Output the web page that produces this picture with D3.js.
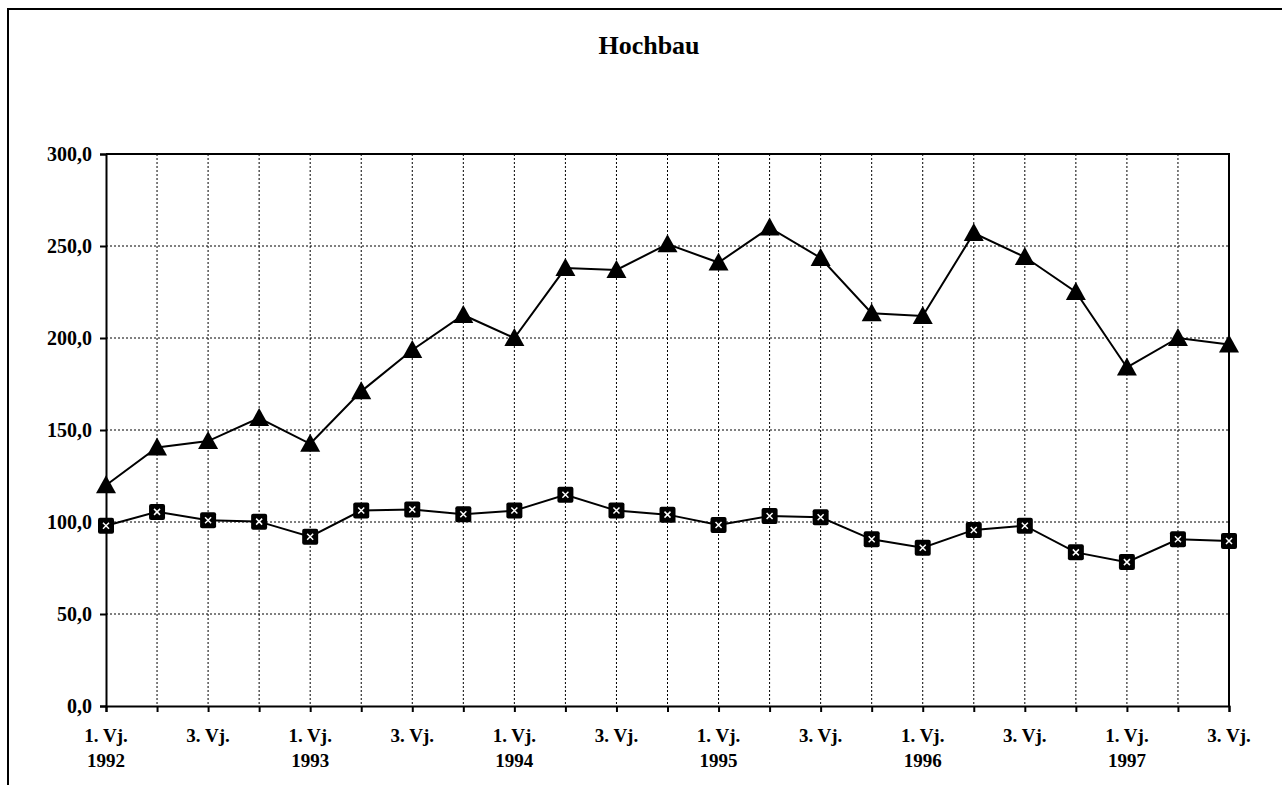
<!DOCTYPE html>
<html lang="de">
<head>
  <meta charset="UTF-8" />
  <title>Hochbau</title>
  <style>
    html, body { margin: 0; padding: 0; background: #fff; }
    svg { display: block; font-family: "Liberation Serif", "Times New Roman", serif; font-weight: bold; }
  </style>
</head>
<body>
  <script src="https://d3js.org/d3.v7.min.js"></script>
  <script>
    // Quartale 1. Vj. 1992 bis 3. Vj. 1997
    const quarters = ["1/92","2/92","3/92","4/92","1/93","2/93","3/93","4/93","1/94","2/94","3/94","4/94",
                      "1/95","2/95","3/95","4/95","1/96","2/96","3/96","4/96","1/97","2/97","3/97"];
    const seriesTriangle = [120, 140.5, 144, 156.5, 142.5, 171, 193.5, 212.5, 200, 238, 237, 251,
                            241, 260, 243.5, 213.5, 212, 257, 244, 225, 184, 200, 196.5];
    const seriesSquare = [98, 105.5, 101, 100.2, 92, 106.2, 106.8, 104.2, 106.2, 114.8, 106.2, 104,
                          98.4, 103.3, 102.6, 90.6, 86, 95.7, 98, 83.5, 78.2, 90.6, 89.7];
    const yTicks = [0, 50, 100, 150, 200, 250, 300];
    const title = "Hochbau";

    const W = 1282, H = 785;
    const mLeft = 106, mRight = 1229, mTop = 154, mBottom = 706;

    const svg = d3.select("body").append("svg").attr("width", W).attr("height", H);

    // Rahmen (links und oben)
    svg.append("path").attr("d", `M8,${H} L8,9 L${W},9`).attr("fill", "none").attr("stroke", "#000").attr("stroke-width", 2);

    const x = d3.scalePoint().domain(quarters).range([mLeft, mRight]);
    const y = d3.scaleLinear().domain([0, 300]).range([mBottom, mTop]);

    svg.append("text").attr("x", 649).attr("y", 54).attr("text-anchor", "middle")
      .style("font-size", "26px").text(title);

    // Gitter
    const grid = svg.append("g").attr("stroke", "#000").attr("stroke-width", 1).attr("stroke-dasharray", "2,2");
    grid.selectAll("line.v").data(quarters.slice(1, -1)).join("line").attr("class", "v")
      .attr("x1", d => x(d)).attr("x2", d => x(d)).attr("y1", mTop).attr("y2", mBottom);
    grid.selectAll("line.h").data(yTicks.slice(1, -1)).join("line").attr("class", "h")
      .attr("x1", mLeft).attr("x2", mRight).attr("y1", d => y(d)).attr("y2", d => y(d));

    // Achsen
    const fmt = d => d3.format(".1f")(d).replace(".", ",");
    const yAxis = svg.append("g").attr("transform", `translate(${mLeft},0)`)
      .call(d3.axisLeft(y).tickValues(yTicks).tickSize(6).tickPadding(8).tickFormat(fmt));
    yAxis.selectAll("text").style("font-size", "20px").attr("fill", "#000")
      .style("font-family", "'Liberation Serif', serif").style("font-weight", "bold");

    svg.append("g").attr("transform", `translate(0,${mBottom})`)
      .call(d3.axisBottom(x).tickSize(6).tickFormat(""));
    svg.selectAll(".domain, .tick line").attr("stroke", "#000").attr("stroke-width", 2);

    // Plotrahmen oben und rechts
    svg.append("path").attr("d", `M${mLeft},${mTop} L${mRight},${mTop} L${mRight},${mBottom}`)
      .attr("fill", "none").attr("stroke", "#000").attr("stroke-width", 2);

    // x-Beschriftung
    const xl = svg.append("g").style("font-size", "19px").attr("text-anchor", "middle");
    quarters.forEach(q => {
      const [qq, yy] = q.split("/");
      if (qq === "1" || qq === "3") {
        xl.append("text").attr("x", x(q)).attr("y", 742).text(qq + ". Vj.");
        if (qq === "1") xl.append("text").attr("x", x(q)).attr("y", 767).text("19" + yy);
      }
    });

    const line = d3.line().x((d, i) => x(quarters[i])).y(d => y(d));
    [seriesTriangle, seriesSquare].forEach(s => {
      svg.append("path").datum(s).attr("d", line).attr("fill", "none").attr("stroke", "#000").attr("stroke-width", 2);
    });

    // Dreiecke
    svg.append("g").selectAll("path").data(seriesTriangle).join("path")
      .attr("transform", (d, i) => `translate(${x(quarters[i])},${y(d)})`)
      .attr("d", "M0,-10 L10,8 L-10,8 Z").attr("fill", "#000");

    // Quadrate mit weissem Kreuz
    const sq = svg.append("g").selectAll("g").data(seriesSquare).join("g")
      .attr("transform", (d, i) => `translate(${x(quarters[i])},${y(d)})`);
    sq.append("rect").attr("x", -8).attr("y", -8).attr("width", 16).attr("height", 16).attr("rx", 2).attr("fill", "#000");
    sq.append("path").attr("d", "M-3,-3 L3,3 M3,-3 L-3,3").attr("stroke", "#fff").attr("stroke-width", 1.5);
  </script>
</body>
</html>
